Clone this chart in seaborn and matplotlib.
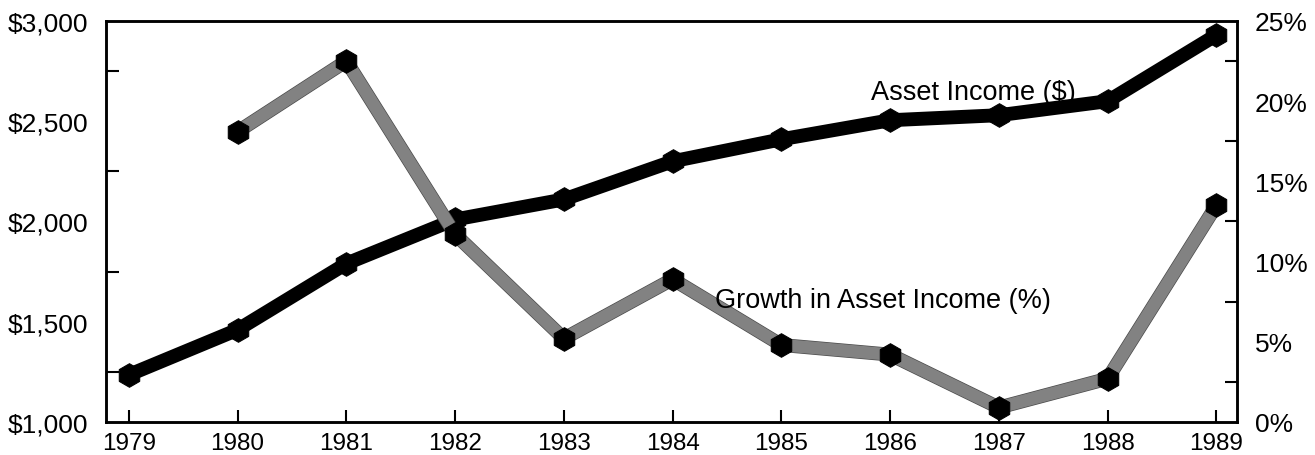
import matplotlib
matplotlib.use('Agg')
import matplotlib.pyplot as plt
import matplotlib.patheffects as pe
from matplotlib.ticker import FixedLocator, FuncFormatter
import pandas as pd
import seaborn as sns

## Data
years = [1979, 1980, 1981, 1982, 1983, 1984, 1985, 1986, 1987, 1988, 1989]
asset_income = [1235, 1460, 1790, 2010, 2110, 2300, 2410, 2505, 2530, 2600, 2930]
growth_years = [1980, 1981, 1982, 1983, 1984, 1985, 1986, 1987, 1988, 1989]
growth_pct = [18.1, 22.5, 11.7, 5.2, 8.9, 4.8, 4.2, 0.9, 2.7, 13.5]

left_ticks = [1000, 1500, 2000, 2500, 3000]
right_ticks = [0, 5, 10, 15, 20, 25]

df_inc = pd.DataFrame({'Year': years, 'Income': asset_income})
df_gr = pd.DataFrame({'Year': growth_years, 'Growth': growth_pct})

sns.set_style('white')
plt.rcParams['font.family'] = ['Liberation Sans', 'DejaVu Sans']
plt.rcParams['text.color'] = 'black'
plt.rcParams['xtick.color'] = 'black'
plt.rcParams['ytick.color'] = 'black'

fig = plt.figure(figsize=(13.15, 4.56), dpi=100)
ax = fig.add_axes([0.0806, 0.0724, 0.8601, 0.8794])
ax2 = ax.twinx()

## Asset income (black, thick)
sns.lineplot(data=df_inc, x='Year', y='Income', ax=ax, color='black', linewidth=10,
             marker='h', markersize=17, markeredgecolor='black', markerfacecolor='black',
             clip_on=False)

## Growth (halftone grey line, black markers on top)
sns.lineplot(data=df_gr, x='Year', y='Growth', ax=ax2, color='#828282', linewidth=9,
             clip_on=False,
             path_effects=[pe.Stroke(linewidth=10, foreground='#4a4a4a'), pe.Normal()])
sns.lineplot(data=df_gr, x='Year', y='Growth', ax=ax2, linewidth=0, color='black',
             marker='h', markersize=17, markeredgecolor='black', markerfacecolor='black',
             clip_on=False)

ax.set_xlim(1978.79, 1989.19)
ax.set_ylim(1000, 3000)
ax2.set_ylim(0, 25)

## labels at round values, tick marks only at midpoints
ax.yaxis.set_major_locator(FixedLocator(left_ticks))
ax.yaxis.set_minor_locator(FixedLocator([1250, 1750, 2250, 2750]))
ax.yaxis.set_major_formatter(FuncFormatter(lambda v, p: f'${v:,.0f}'))
ax2.yaxis.set_major_locator(FixedLocator(right_ticks))
ax2.yaxis.set_minor_locator(FixedLocator([2.5, 7.5, 12.5, 17.5, 22.5]))
ax2.yaxis.set_major_formatter(FuncFormatter(lambda v, p: f'{v:.0f}%'))
ax.set_xticks(years)
ax.set_xticklabels([str(y) for y in years])

ax.tick_params(axis='y', which='major', length=0, pad=13, labelsize=19, left=True, right=False)
ax.tick_params(axis='y', which='minor', length=9, width=1.5, direction='in', left=True, right=False)
ax.tick_params(axis='x', which='major', length=9, width=1.5, direction='in', pad=7, labelsize=17.5,
               bottom=True, top=False)
ax2.tick_params(axis='y', which='major', length=0, pad=13, labelsize=19, right=True, left=False)
ax2.tick_params(axis='y', which='minor', length=9, width=1.5, direction='in', right=True, left=False)

ax.set_xlabel('')
ax.set_ylabel('')
ax2.set_ylabel('')
for a in (ax, ax2):
    for s in a.spines.values():
        s.set_linewidth(1.8)
        s.set_color('black')

fig.text(973 / 1315, 1 - 93 / 456, 'Asset Income ($)', fontsize=19.5,
         ha='center', va='center', zorder=10)
fig.text(883 / 1315, 1 - 301 / 456, 'Growth in Asset Income (%)', fontsize=19.5,
         ha='center', va='center', zorder=10)

fig.savefig('out.png', dpi=100)
